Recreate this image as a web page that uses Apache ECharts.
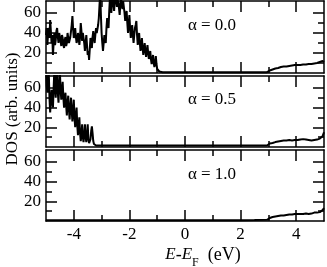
<!DOCTYPE html>
<html><head><meta charset="utf-8">
<script src="https://cdn.jsdelivr.net/npm/echarts@6/dist/echarts.min.js"></script>
<style>html,body{margin:0;padding:0;background:#fff}#c{width:327px;height:267px}</style>
</head><body><div id="c"></div>
<script>
// ---------- data ----------
const xMajorTicks = [-4, -2, 0, 2, 4];
const xMinorTicks = [-3, -1, 1, 3];
const yMajorTicks = [20, 40, 60];
const yMinorTicks = [10, 30, 50];
const panelLabels = ['α = 0.0', 'α = 0.5', 'α = 1.0'];

// alpha = 0.0
const energy0 = [
  -5.000,-4.975,-4.950,-4.925,-4.900,-4.875,-4.850,-4.825,-4.800,-4.775,-4.750,-4.725,-4.700,-4.675,-4.650,-4.625,-4.600,-4.575,-4.550,-4.525,
  -4.500,-4.475,-4.450,-4.425,-4.400,-4.375,-4.350,-4.325,-4.300,-4.275,-4.250,-4.225,-4.200,-4.175,-4.150,-4.125,-4.100,-4.075,-4.050,-4.025,
  -4.000,-3.975,-3.950,-3.925,-3.900,-3.875,-3.850,-3.825,-3.800,-3.775,-3.750,-3.725,-3.700,-3.675,-3.650,-3.625,-3.600,-3.575,-3.550,-3.525,
  -3.500,-3.475,-3.450,-3.425,-3.400,-3.375,-3.350,-3.325,-3.300,-3.275,-3.250,-3.225,-3.200,-3.175,-3.150,-3.125,-3.100,-3.075,-3.050,-3.025,
  -3.000,-2.975,-2.950,-2.925,-2.900,-2.875,-2.850,-2.825,-2.800,-2.775,-2.750,-2.725,-2.700,-2.675,-2.650,-2.625,-2.600,-2.575,-2.550,-2.525,
  -2.500,-2.475,-2.450,-2.425,-2.400,-2.375,-2.350,-2.325,-2.300,-2.275,-2.250,-2.225,-2.200,-2.175,-2.150,-2.125,-2.100,-2.075,-2.050,-2.025,
  -2.000,-1.975,-1.950,-1.925,-1.900,-1.875,-1.850,-1.825,-1.800,-1.775,-1.750,-1.725,-1.700,-1.675,-1.650,-1.625,-1.600,-1.575,-1.550,-1.525,
  -1.500,-1.475,-1.450,-1.425,-1.400,-1.375,-1.350,-1.325,-1.300,-1.275,-1.250,-1.225,-1.200,-1.175,-1.150,-1.125,-1.100,-1.075,-1.050,-1.025,
  -1.000,-0.975,-0.950,-0.925,-0.900,-0.875,-0.850,-0.800,-0.500,0.000,0.500,1.000,1.500,2.000,2.500,2.950,
  3.00,3.05,3.10,3.15,3.20,3.25,3.30,3.35,3.40,3.45,3.50,3.55,3.60,3.65,3.70,3.75,3.80,3.85,3.90,3.95,
  4.00,4.05,4.10,4.15,4.20,4.25,4.30,4.35,4.40,4.45,4.50,4.55,4.60,4.65,4.70,4.75,4.80,4.85,4.90,4.95,5.00];
const dos0 = [
  38,45,28,40,45,35,53,42,30,38,18,30,40,28,33,42,45,36,30,40,
  38,32,27,38,35,28,25,33,36,27,30,40,38,30,33,36,42,48,57,44,
  35,38,45,36,30,33,40,35,28,36,50,42,32,40,42,30,22,30,38,28,
  18,22,13,24,35,30,25,36,42,35,30,38,45,40,38,48,55,68,80,58,
  40,30,22,30,38,34,30,45,55,48,45,62,75,68,60,72,78,70,62,74,
  80,72,66,74,76,65,58,70,75,68,64,72,70,60,52,58,62,50,40,48,
  58,45,35,42,48,38,30,38,45,48,52,38,28,35,40,30,22,28,35,25,
  18,24,30,22,16,22,28,20,14,18,22,14,9,13,18,10,6,10,17,9,
  4,3,2,1.5,1.5,1,1,0.8,0.8,0.8,0.8,0.8,0.8,0.8,0.8,0.8,
  1,2.5,4,3.5,5,4.5,6,5,7,6,7.5,6.5,8,6.5,8,7,8.5,7.5,9,8,
  9,8,9.5,8,9.5,8.5,10,8.5,10,9,10.5,9,8,9.5,8.5,10,9,11,10,12,11];

// alpha = 0.5
const energy5 = [
  -5.000,-4.975,-4.950,-4.925,-4.900,-4.875,-4.850,-4.825,-4.800,-4.775,-4.750,-4.725,-4.700,-4.675,-4.650,-4.625,-4.600,-4.575,-4.550,-4.525,
  -4.500,-4.475,-4.450,-4.425,-4.400,-4.375,-4.350,-4.325,-4.300,-4.275,-4.250,-4.225,-4.200,-4.175,-4.150,-4.125,-4.100,-4.075,-4.050,-4.025,
  -4.000,-3.975,-3.950,-3.925,-3.900,-3.875,-3.850,-3.825,-3.800,-3.775,-3.750,-3.725,-3.700,-3.675,-3.650,-3.625,-3.600,-3.575,-3.550,-3.525,
  -3.500,-3.475,-3.450,-3.425,-3.400,-3.375,-3.350,-3.325,-3.300,-3.275,-3.250,-3.200,
  -2.500,-1.500,-0.500,0.500,1.500,2.500,2.950,
  3.00,3.05,3.10,3.15,3.20,3.25,3.30,3.35,3.40,3.45,3.50,3.55,3.60,3.65,3.70,3.75,3.80,3.85,3.90,3.95,
  4.00,4.05,4.10,4.15,4.20,4.25,4.30,4.35,4.40,4.45,4.50,4.55,4.60,4.65,4.70,4.75,4.80,4.85,4.90,4.95,5.00];
const dos5 = [
  80,62,55,70,75,50,35,48,58,45,40,60,78,60,50,72,80,55,45,62,
  76,58,48,58,66,50,40,50,55,42,32,45,52,38,28,40,50,36,26,38,
  48,30,20,32,40,22,12,22,30,14,6,12,23,10,5,12,23,10,5,12,
  23,8,4,5,8,16,21,14,6,3,2,1.5,
  1.5,1.5,1.5,1.5,1.5,1.5,1.5,
  2,3.5,5,4,5.5,5,6.5,5.5,7,6,8,6.5,7.5,6.5,8,7,7.5,6.5,7.5,7,
  8,7,8.5,7.5,9,8,8.5,7.5,8,7,7.5,6.5,6.5,7,8,7.5,9.5,8.5,10,11,15];

// alpha = 1.0
const energy10 = [-5.00,-4.00,-3.00,-2.00,-1.00,0.00,1.00,2.00,2.50,2.95,
  3.00,3.05,3.10,3.15,3.20,3.25,3.30,3.35,3.40,3.45,3.50,3.55,3.60,3.65,3.70,3.75,3.80,3.85,3.90,3.95,
  4.00,4.05,4.10,4.15,4.20,4.25,4.30,4.35,4.40,4.45,4.50,4.55,4.60,4.65,4.70,4.75,4.80,4.85,4.90,4.95,5.00];
const dos10 = [0.8,0.8,0.8,0.8,0.8,0.8,0.8,0.8,1,1.2,
  1.5,3,4.5,4,5,4.5,6,5,6,5.5,6.5,5.5,7,6,7,6.5,7.5,6.5,8,7,
  7.5,7,8,7,7.5,7,8,7.5,8,7,8.5,7.5,8,8.5,9,8.5,9.5,9,10.5,11,13];

const energies = [energy0, energy5, energy10];
const doses = [dos0, dos5, dos10];

// ---------- chart ----------
const FONT = '"Liberation Serif", "Times New Roman", Times, serif';
const FS = 17;
const grids = [
  {left: 46, top: 1, width: 278, height: 72},
  {left: 46, top: 76, width: 278, height: 71},
  {left: 46, top: 150, width: 278, height: 71}
];
const Y_MAX = 72;
const lineW = 1.5;
const xAxes = [], yAxes = [], series = [];
grids.forEach((g, i) => {
  const base = {gridIndex: i, type: 'value', min: -5, max: 5, splitLine: {show: false}};
  xAxes.push(Object.assign({}, base, {position: 'bottom',
    axisLine: {show: true, onZero: false, lineStyle: {color: '#000', width: lineW}},
    axisTick: {show: true, inside: true, length: 11, customValues: xMajorTicks, lineStyle: {color: '#000', width: lineW}},
    axisLabel: {show: i === 2, customValues: xMajorTicks, color: '#000', fontFamily: FONT, fontSize: FS, margin: 5}}));
  xAxes.push(Object.assign({}, base, {position: 'bottom',
    axisLine: {show: false, onZero: false},
    axisTick: {show: true, inside: true, length: 6, customValues: xMinorTicks, lineStyle: {color: '#000', width: lineW}},
    axisLabel: {show: false}}));
  xAxes.push(Object.assign({}, base, {position: 'top',
    axisLine: {show: true, onZero: false, lineStyle: {color: '#000', width: lineW}},
    axisTick: {show: true, inside: true, length: 11, customValues: xMajorTicks, lineStyle: {color: '#000', width: lineW}},
    axisLabel: {show: false}}));
  xAxes.push(Object.assign({}, base, {position: 'top',
    axisLine: {show: false, onZero: false},
    axisTick: {show: true, inside: true, length: 6, customValues: xMinorTicks, lineStyle: {color: '#000', width: lineW}},
    axisLabel: {show: false}}));
  const ybase = {gridIndex: i, type: 'value', min: 0, max: Y_MAX, splitLine: {show: false}};
  yAxes.push(Object.assign({}, ybase, {position: 'left',
    axisLine: {show: true, onZero: false, lineStyle: {color: '#000', width: lineW}},
    axisTick: {show: true, inside: true, length: 11, customValues: yMajorTicks, lineStyle: {color: '#000', width: lineW}},
    axisLabel: {show: true, customValues: yMajorTicks, color: '#000', fontFamily: FONT, fontSize: FS, margin: 5}}));
  yAxes.push(Object.assign({}, ybase, {position: 'left',
    axisLine: {show: false, onZero: false},
    axisTick: {show: true, inside: true, length: 6, customValues: yMinorTicks, lineStyle: {color: '#000', width: lineW}},
    axisLabel: {show: false}}));
  yAxes.push(Object.assign({}, ybase, {position: 'right',
    axisLine: {show: true, onZero: false, lineStyle: {color: '#000', width: lineW}},
    axisTick: {show: true, inside: true, length: 11, customValues: yMajorTicks, lineStyle: {color: '#000', width: lineW}},
    axisLabel: {show: false}}));
  yAxes.push(Object.assign({}, ybase, {position: 'right',
    axisLine: {show: false, onZero: false},
    axisTick: {show: true, inside: true, length: 6, customValues: yMinorTicks, lineStyle: {color: '#000', width: lineW}},
    axisLabel: {show: false}}));
  series.push({
    type: 'line', xAxisIndex: i * 4, yAxisIndex: i * 4,
    data: energies[i].map((e, k) => [e, doses[i][k]]),
    showSymbol: false, symbol: 'none', clip: true, animation: false,
    lineStyle: {color: '#000', width: 2}
  });
});

const labelYs = [26, 100, 175];
const graphic = panelLabels.map((t, i) => ({
  type: 'text', x: 212, y: labelYs[i],
  style: {text: t, fill: '#000', font: FS + 'px ' + FONT, align: 'center', verticalAlign: 'middle'}
}));
graphic.push({
  type: 'text', x: 13, y: 109, rotation: Math.PI / 2,
  style: {text: 'DOS (arb. units)', fill: '#000', font: FS + 'px ' + FONT, align: 'center', verticalAlign: 'middle'}
});
graphic.push({
  type: 'text', x: 203, y: 255,
  style: {
    text: '{i|E}{n|-}{i|E}{s|F}{n|  (eV)}', fill: '#000', align: 'center', verticalAlign: 'middle',
    font: '18px ' + FONT,
    rich: {
      i: {fontFamily: FONT, fontSize: 17, fontStyle: 'italic', lineHeight: 27, verticalAlign: 'middle', fill: '#000'},
      n: {fontFamily: FONT, fontSize: 18, lineHeight: 27, verticalAlign: 'middle', fill: '#000'},
      s: {fontFamily: FONT, fontSize: 12, lineHeight: 12, verticalAlign: 'bottom', fill: '#000'}
    }
  }
});

const chart = echarts.init(document.getElementById('c'), null, {renderer: 'canvas'});
chart.setOption({
  animation: false,
  backgroundColor: '#fff',
  grid: grids,
  xAxis: xAxes,
  yAxis: yAxes,
  series: series,
  graphic: graphic
});
</script></body></html>
